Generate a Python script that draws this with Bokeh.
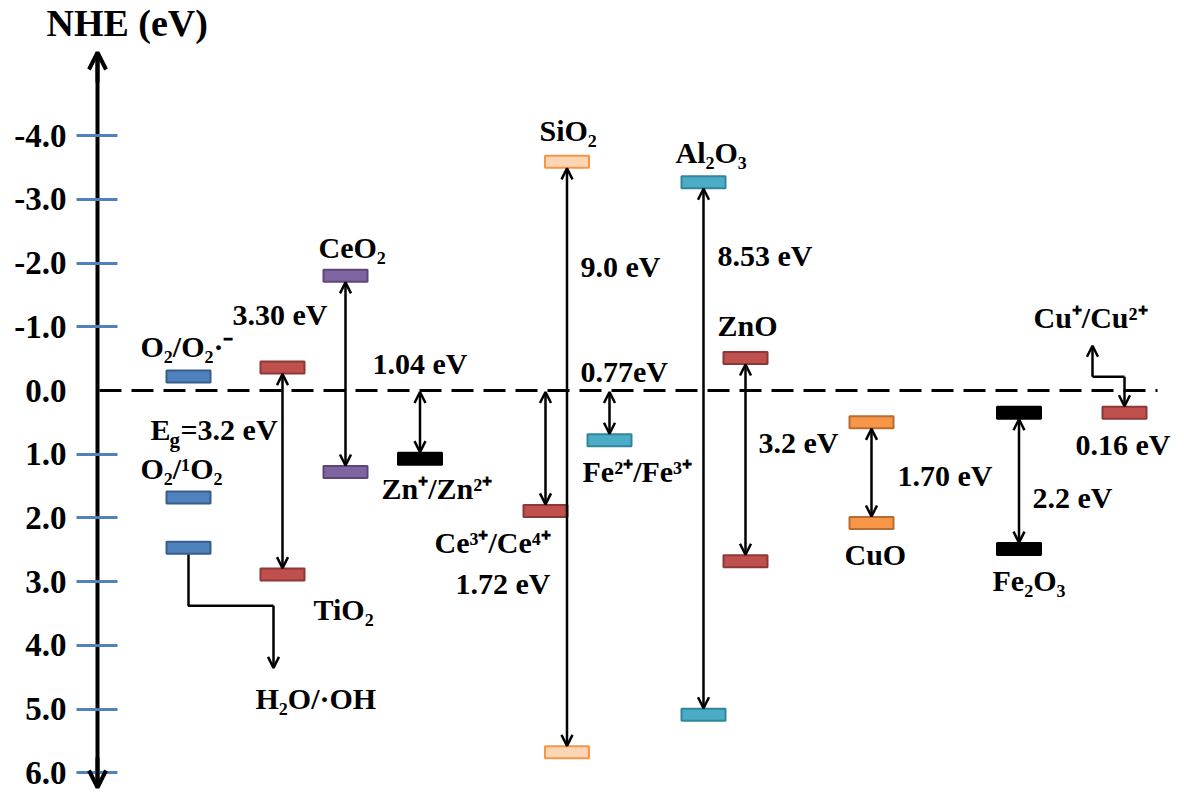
from bokeh.plotting import figure
from bokeh.models import (ColumnDataSource, Range1d, FixedTicker, PrintfTickFormatter,
                          Arrow, OpenHead)
from bokeh.core.properties import value
from bokeh.embed import file_html
from bokeh.resources import INLINE

# ---------------- data: potentials in eV vs NHE ----------------
axis_title = "NHE (eV)"
tick_values = [-4, -3, -2, -1, 0, 1, 2, 3, 4, 5, 6]
tick_marks = [-4, -3, -2, -1, 1, 2, 3, 4, 5, 6]     # no blue mark at 0.0

couple_labels = ["O₂/O₂·⁻", "O₂/¹O₂", "H₂O/·OH", "Zn⁺/Zn²⁺", "Ce³⁺/Ce⁴⁺", "Fe²⁺/Fe³⁺", "Cu⁺/Cu²⁺"]
couple_ev = [-0.22, 1.68, 2.47, 1.07, 1.89, 0.78, 0.35]
couple_value_text = ["", "", "", "1.04 eV", "1.72 eV", "0.77eV", "0.16 eV"]

oxide_labels = ["TiO₂", "CeO₂", "SiO₂", "Al₂O₃", "ZnO", "CuO", "Fe₂O₃"]
oxide_cb_ev = [-0.36, -1.80, -3.59, -3.27, -0.51, 0.50, 0.35]
oxide_vb_ev = [2.89, 1.28, 5.68, 5.09, 2.68, 2.08, 2.49]
oxide_gap_text = ["Eg=3.2 eV", "3.30 eV", "9.0 eV", "8.53 eV", "3.2 eV", "1.70 eV", "2.2 eV"]

# ---------------- layout and style ----------------
W, H = 1184, 792
Y0_PX, PPE = 390.0, 63.7              # page row of 0 eV and pixels per eV
Y_TOP, Y_BOT = -Y0_PX / PPE, (H - Y0_PX) / PPE
AXIS_X = 97                           # x data units are page pixels
AXIS_TOP = (52 - Y0_PX) / PPE
AXIS_BOT = (787 - Y0_PX) / PPE
DASH_END = 1157
BAR_W, BAR_H = 44, 12
HALF = (BAR_H / 2 + 0.5) / PPE
FONT = value("Liberation Serif")
BLUE = "#4F81BD"
BASE_FIX = 0.37                       # renderer puts the alphabetic baseline ~0.37 em low

couple_x = [188, 188, 188, 419.5, 545, 609, 1124]
couple_fill = [BLUE, BLUE, BLUE, "#000000", "#C0504D", "#4BACC6", "#C0504D"]
couple_line = ["#385D8A", "#385D8A", "#385D8A", "#000000", "#8C3836", "#31859C", "#8C3836"]
couple_lbl_pos = [(140, -19), (140, -18), (255, 162), (381, 41), (434, 43), (582, 42), (1033, -84)]
# value labels: (x_left, dy px, anchored to zero line?)
couple_val_pos = [None, None, None, (372, -16, True), (455, 84, False), (580, -8, True), (1075, 43, False)]

oxide_x = [282, 345, 566.5, 703, 745, 871, 1018.5]
oxide_fill = ["#C0504D", "#8064A2", "#FCD5B5", "#4BACC6", "#C0504D", "#F79646", "#000000"]
oxide_line = ["#8C3836", "#5C4776", "#F79646", "#31859C", "#8C3836", "#B66D31", "#000000"]
# name label: (x_left, dy px, anchor 'cb'/'vb'); gap label: (x_left, dy px, anchor oxide index)
oxide_lbl_pos = [(313, 46, "vb"), (318, -17, "cb"), (539, -20, "cb"), (675, -19, "cb"),
                 (717, -21, "cb"), (844, 43, "vb"), (992, 42, "vb")]
oxide_gap_pos = [(150, 73, 0), (232, -42, 0), (580, 116, 2), (717, 84, 3), (758, 96, 4),
                 (897, 64, 5), (1032, 96, 6)]


def px(dy):
    return dy / PPE


p = figure(width=W, height=H, x_range=Range1d(0, W), y_range=Range1d(Y_BOT, Y_TOP),
           output_backend="svg", toolbar_location=None, x_axis_location=None,
           y_axis_location="left", min_border=0, title=None)
p.background_fill_color = "white"
p.border_fill_color = "white"
p.outline_line_color = None
p.grid.grid_line_color = None

ax = p.yaxis[0]
ax.fixed_location = AXIS_X
ax.bounds = (AXIS_TOP, AXIS_BOT)
ax.ticker = FixedTicker(ticks=tick_values, minor_ticks=tick_marks)
ax.formatter = PrintfTickFormatter(format="%.1f")
ax.major_tick_line_color = None
ax.major_tick_in = 0
ax.major_tick_out = 21
ax.minor_tick_line_color = BLUE
ax.minor_tick_line_width = 3
ax.minor_tick_in = 20
ax.minor_tick_out = 21
ax.axis_line_color = "black"
ax.axis_line_width = 4
ax.major_label_text_font = "Liberation Serif"
ax.major_label_text_font_style = "bold"
ax.major_label_text_font_size = "33px"
ax.major_label_text_color = "black"
ax.major_label_standoff = 10

# axis arrow heads
for y_tip, y_tail in ((AXIS_TOP, AXIS_TOP + px(30)), (AXIS_BOT, AXIS_BOT - px(30))):
    p.add_layout(Arrow(x_start=AXIS_X, y_start=y_tail, x_end=AXIS_X, y_end=y_tip,
                       line_width=4, line_color="black",
                       end=OpenHead(size=17, line_width=4, line_color="black")))

# zero reference line (0 V vs NHE)
p.segment(x0=AXIS_X + 2, y0=0, x1=DASH_END, y1=0, line_color="black", line_width=3,
          line_dash="22 10", level="underlay")

# ---- arrows between levels ----
ax_x, ay0, ay1 = [], [], []
for x, cb, vb in zip(oxide_x, oxide_cb_ev, oxide_vb_ev):
    ax_x.append(x); ay0.append(cb + HALF); ay1.append(vb - HALF)
for i in (3, 4, 5):
    ax_x.append(couple_x[i]); ay0.append(px(1.5)); ay1.append(couple_ev[i] - HALF)
arrow_src = ColumnDataSource(dict(x=ax_x, y0=ay0, y1=ay1))
HEAD = dict(size=11, line_width=2.5, line_color="black")
p.add_layout(Arrow(x_start="x", y_start="y0", x_end="x", y_end="y1", source=arrow_src,
                   line_width=2.5, line_color="black",
                   start=OpenHead(**HEAD), end=OpenHead(**HEAD)))

# connector O2 levels -> H2O/.OH label
h2o = couple_ev[2]
p.line(x=[couple_x[2], couple_x[2], 273], y=[h2o + HALF, h2o + px(58), h2o + px(58)],
       line_color="black", line_width=2.5)
p.add_layout(Arrow(x_start=273, y_start=h2o + px(58), x_end=273, y_end=h2o + px(120),
                   line_width=2.5, line_color="black", end=OpenHead(**HEAD)))

# connector Cu+/Cu2+ label -> level
cu = couple_ev[6]
p.add_layout(Arrow(x_start=1092, y_start=cu - px(36), x_end=1092, y_end=cu - px(67),
                   line_width=2.5, line_color="black", end=OpenHead(**HEAD)))
p.line(x=[1092, couple_x[6]], y=[cu - px(36), cu - px(36)], line_color="black", line_width=2.5)
p.add_layout(Arrow(x_start=couple_x[6], y_start=cu - px(36), x_end=couple_x[6], y_end=cu - HALF,
                   line_width=2.5, line_color="black", end=OpenHead(**HEAD)))

# ---- level bars ----
bar_src = ColumnDataSource(dict(
    x=couple_x + oxide_x + oxide_x,
    y=couple_ev + oxide_cb_ev + oxide_vb_ev,
    fill=couple_fill + oxide_fill + oxide_fill,
    line=couple_line + oxide_line + oxide_line))
p.rect(x="x", y="y", width=BAR_W, height=BAR_H, width_units="screen", height_units="screen",
       fill_color="fill", line_color="line", line_width=2, source=bar_src)

# ---- text labels (positions are baselines) ----
texts = {30: ([], [], []), 21: ([], [], []), 38: ([], [], [])}


def put(size, x, y_ev, dy, t):
    xs, ys, ts = texts[size]
    xs.append(x); ys.append(y_ev + px(dy - BASE_FIX * size)); ts.append(t)


put(38, 46, AXIS_TOP, -15, axis_title)
for lab, v, (x0, dy) in zip(couple_labels, couple_ev, couple_lbl_pos):
    put(30, x0, v, dy, lab)
for txt, v, pos in zip(couple_value_text, couple_ev, couple_val_pos):
    if pos is None:
        continue
    x0, dy, at_zero = pos
    put(30, x0, 0 if at_zero else v, dy, txt)
for lab, cb, vb, (x0, dy, anc) in zip(oxide_labels, oxide_cb_ev, oxide_vb_ev, oxide_lbl_pos):
    put(30, x0, cb if anc == "cb" else vb, dy, lab)
for txt, (x0, dy, k) in zip(oxide_gap_text, oxide_gap_pos):
    cb = oxide_cb_ev[k]
    if txt.startswith("Eg"):
        put(30, x0, cb, dy, "E")
        put(21, x0 + 19, cb, dy + 7, "g")
        put(30, x0 + 30, cb, dy, txt[2:])
    else:
        put(30, x0, cb, dy, txt)

for size, (xs, ys, ts) in texts.items():
    p.text(x="x", y="y", text="t", source=ColumnDataSource(dict(x=xs, y=ys, t=ts)),
           text_font=FONT, text_font_style="bold", text_font_size=f"{size}px",
           text_color="black", text_align="left", text_baseline="alphabetic")

open("out.html", "w").write(file_html(p, INLINE))
